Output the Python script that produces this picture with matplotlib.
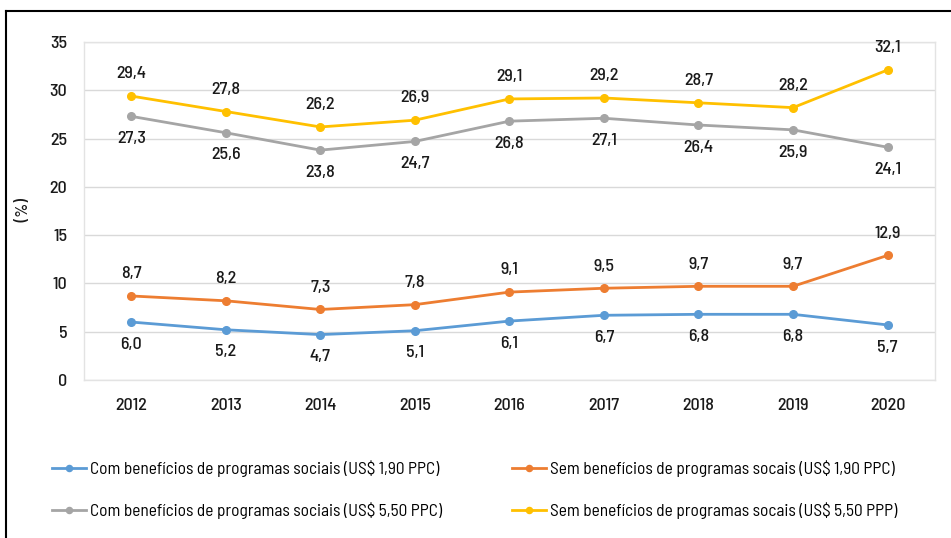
import matplotlib.pyplot as plt
from matplotlib.lines import Line2D

plt.rcParams['font.family'] = ['Barlow Semi Condensed', 'Roboto', 'DejaVu Sans']

# Data
years = ["2012", "2013", "2014", "2015", "2016", "2017", "2018", "2019", "2020"]
com_190 = [6.0, 5.2, 4.7, 5.1, 6.1, 6.7, 6.8, 6.8, 5.7]
sem_190 = [8.7, 8.2, 7.3, 7.8, 9.1, 9.5, 9.7, 9.7, 12.9]
com_550 = [27.3, 25.6, 23.8, 24.7, 26.8, 27.1, 26.4, 25.9, 24.1]
sem_550 = [29.4, 27.8, 26.2, 26.9, 29.1, 29.2, 28.7, 28.2, 32.1]

names = [
    "Com benefícios de programas sociais (US$ 1,90 PPC)",
    "Sem benefícios de programas socais (US$ 1,90 PPC)",
    "Com benefícios de programas sociais (US$ 5,50 PPC)",
    "Sem benefícios de programas socais (US$ 5,50 PPP)",
]

fig = plt.figure(figsize=(9.51, 5.38), dpi=100)
ax = fig.add_axes([0.0883, 0.2937, 0.8947, 0.6283])

x = range(len(years))
series = [
    (com_190, "#5B9BD5", -1),
    (sem_190, "#ED7D31", 1),
    (com_550, "#A5A5A5", -1),
    (sem_550, "#FFC000", 1),
]

handles = []
for (vals, color, side), name in zip(series, names):
    h, = ax.plot(x, vals, color=color, linewidth=2, marker="o",
                 markersize=5.5, label=name, zorder=3)
    handles.append(h)
    for xi, v in zip(x, vals):
        ax.annotate(f"{v:.1f}".replace(".", ","), (xi, v),
                    xytext=(0, 16 * side), textcoords="offset points",
                    ha="center", va="center", fontsize=13, fontweight=500,
                    color="#1a1a1a")

ax.set_xlim(-0.5, len(years) - 0.5)
ax.set_ylim(0, 35)
ax.set_yticks(range(0, 36, 5))
ax.set_xticks(list(x))
ax.set_xticklabels(years)
ax.tick_params(length=0, labelsize=13, colors="#1a1a1a", pad=13)
ax.tick_params(axis="y", pad=12)
for lbl in ax.get_xticklabels() + ax.get_yticklabels():
    lbl.set_fontweight(500)
ax.grid(axis="y", color="#D9D9D9", linewidth=1)
for s in ax.spines.values():
    s.set_color("#E3E3E3")
    s.set_linewidth(1)

fig.text(0.019, 0.61, "(%)", rotation=270, ha="center", va="center",
         fontsize=12.5, fontweight=500, color="#1a1a1a")

# outer box lines
fig.add_artist(Line2D([0.0065, 1.0], [0.979, 0.979], transform=fig.transFigure,
                      color="black", linewidth=1.5))
fig.add_artist(Line2D([0.0065, 0.0065], [0.0, 0.979], transform=fig.transFigure,
                      color="black", linewidth=1.5))

order = [handles[0], handles[2], handles[1], handles[3]]
fig.legend(order, [h.get_label() for h in order], ncol=2, loc="lower left",
           bbox_to_anchor=(0.038, 0.007), frameon=False, fontsize=12.5,
           handlelength=2.0, handletextpad=0.2, columnspacing=4.0,
           labelspacing=1.45, markerscale=0.8)

fig.savefig("out.png", dpi=100)
